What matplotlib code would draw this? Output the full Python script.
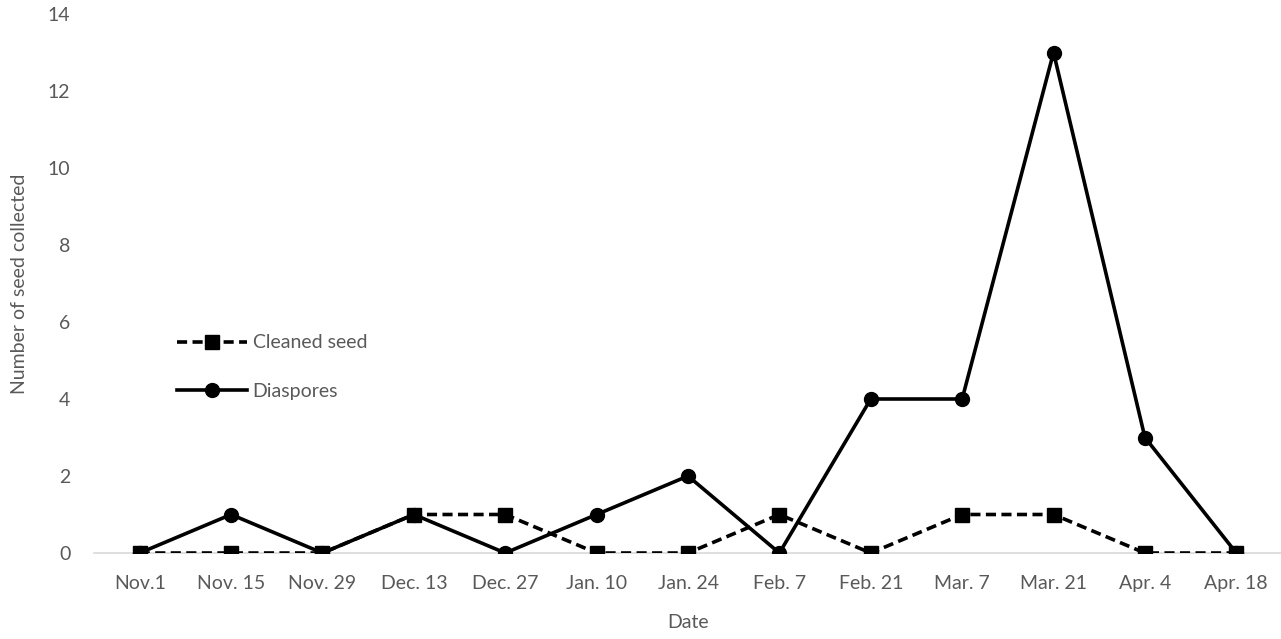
import matplotlib.pyplot as plt
import numpy as np

dates = ["Nov.1", "Nov. 15", "Nov. 29", "Dec. 13", "Dec. 27", "Jan. 10", "Jan. 24",
         "Feb. 7", "Feb. 21", "Mar. 7", "Mar. 21", "Apr. 4", "Apr. 18"]
cleaned_seed = [0, 0, 0, 1, 1, 0, 0, 1, 0, 1, 1, 0, 0]
diaspores = [0, 1, 0, 1, 0, 1, 2, 0, 4, 4, 13, 3, 0]

grey = "#595959"
plt.rcParams['font.family'] = ['Lato', 'DejaVu Sans']
fs = 14

fig = plt.figure(figsize=(12.81, 6.39), dpi=100)
ax = fig.add_axes([94 / 1281, 1 - 553 / 639, 1188 / 1281, 539 / 639])

x = np.arange(len(dates))
ax.plot(x, diaspores, color="black", lw=2.6, marker="o", ms=10, label="Diaspores", zorder=3)
ax.plot(x, cleaned_seed, color="black", lw=2.6, ls=(0, (2.8, 1.5)), marker="s", ms=10.5,
        label="Cleaned seed", zorder=4)

ax.set_xlim(-0.5, len(dates) - 0.5)
ax.set_ylim(0, 14)
ax.set_yticks(range(0, 15, 2))
ax.set_xticks(x)
ax.set_xticklabels(dates)
ax.tick_params(length=0, labelsize=fs, colors=grey)
ax.tick_params(axis="x", pad=16)
ax.tick_params(axis="y", pad=17)

for s in ["top", "right", "left"]:
    ax.spines[s].set_visible(False)
ax.spines["bottom"].set_color("#d9d9d9")
ax.spines["bottom"].set_linewidth(1.2)
ax.spines["bottom"].set_zorder(1)

ax.set_xlabel("Date", fontsize=fs, color=grey, labelpad=16)
ax.set_ylabel("Number of seed collected", fontsize=fs, color=grey, labelpad=14)

handles, labels = ax.get_legend_handles_labels()
ax.legend(handles[::-1], labels[::-1], loc="center left", bbox_to_anchor=(0.055, 0.345),
          frameon=False, fontsize=fs, labelcolor=grey, handlelength=3.6,
          handletextpad=0.3, labelspacing=1.6)

fig.savefig("out.png", dpi=100)
